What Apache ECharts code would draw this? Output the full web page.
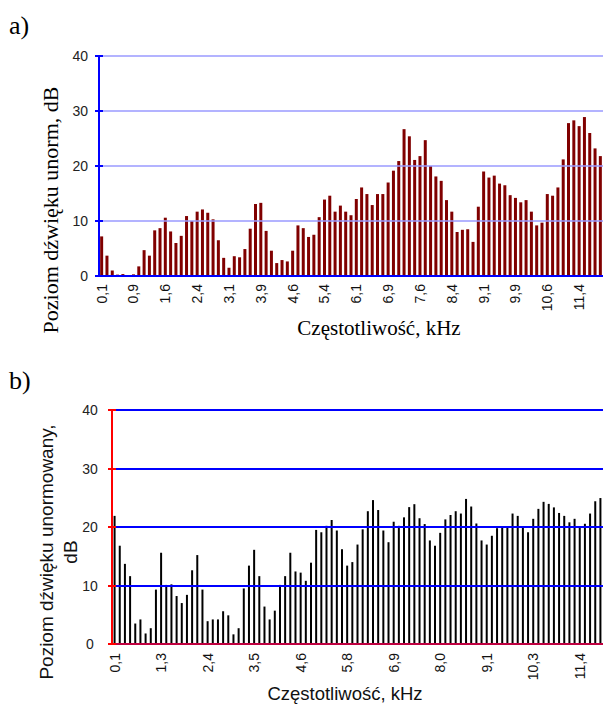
<!DOCTYPE html>
<html>
<head>
<meta charset="utf-8">
<script src="https://cdn.jsdelivr.net/npm/echarts@6/dist/echarts.min.js"></script>
<style>
  html, body { margin: 0; padding: 0; background: #ffffff; }
  #chart { width: 603px; height: 710px; }
</style>
</head>
<body>
<div id="chart"></div>
<script>
// a) levels per frequency bin, dB
const levelsA = [
  7.2, 3.7, 1.0, 0.25, 0.35, 0.1, 0.3, 1.75, 4.7, 3.7,
  8.3, 8.7, 10.6, 8.1, 6.0, 7.3, 10.9, 10.0, 11.7, 12.1,
  11.5, 10.3, 6.5, 3.3, 1.5, 3.6, 3.4, 4.9, 8.6, 13.1,
  13.3, 8.2, 4.6, 2.35, 2.9, 2.65, 4.6, 9.2, 8.7, 7.1,
  7.5, 10.7, 13.9, 14.6, 11.7, 12.8, 11.7, 11.05, 14.0, 16.1,
  14.9, 12.9, 14.9, 14.9, 17.0, 19.15, 20.9, 26.7, 25.4, 21.1,
  21.8, 24.7, 20.0, 18.1, 17.3, 13.8, 11.7, 8.0, 8.4, 8.5,
  6.2, 12.6, 19.0, 17.9, 18.25, 16.8, 16.5, 14.7, 14.2, 13.4,
  13.8, 11.7, 9.2, 9.7, 14.9, 14.6, 16.1, 21.2, 27.8, 28.3,
  27.25, 28.9, 26.0, 23.2, 21.8
];
// frequency labels (kHz) shown under every 6th bin of a)
const ticksA = ['0,1', '0,9', '1,6', '2,4', '3,1', '3,9', '4,6', '5,4',
                '6,1', '6,9', '7,6', '8,4', '9,1', '9,9', '10,6', '11,4'];
const binsPerTickA = 6;

// b) normalised levels per frequency bin, dB
const levelsB = [
  21.9, 16.8, 13.7, 11.6, 3.5, 4.2, 1.8, 2.7, 9.3, 15.6,
  10.1, 10.2, 8.2, 7.0, 8.4, 12.6, 15.2, 9.3, 3.9, 4.2,
  4.2, 5.6, 4.9, 1.65, 2.7, 9.5, 13.4, 16.1, 11.6, 6.4,
  4.2, 5.7, 10.1, 11.6, 15.6, 12.4, 12.2, 10.8, 13.9, 19.5,
  19.1, 20.2, 21.2, 19.4, 16.2, 13.4, 14.0, 17.0, 19.6, 22.7,
  24.6, 22.9, 19.4, 17.4, 20.9, 20.2, 21.65, 23.4, 23.9, 21.5,
  20.5, 17.7, 16.8, 19.0, 21.3, 22.05, 22.7, 22.3, 24.8, 23.5,
  20.6, 17.7, 17.0, 18.5, 19.8, 20.0, 19.9, 22.3, 21.9, 20.0,
  19.1, 21.4, 23.1, 24.3, 23.95, 23.35, 22.4, 21.9, 20.8, 21.4,
  19.85, 20.55, 22.3, 24.4, 24.95
];
// frequency labels (kHz) shown under every 9th bin of b)
const ticksB = ['0,1', '1,3', '2,4', '3,5', '4,6', '5,8', '6,9', '8,0',
                '9,1', '10,3', '11,4'];
const binsPerTickB = 9;

// level scale, dB
const levelMin = 0;
const levelMax = 40;
const levelStep = 10;

const SERIF = "'Liberation Serif', 'Times New Roman', serif";
const SANS = "'Liberation Sans', Arial, sans-serif";

const binsA = levelsA.map((_, i) => String(i));
const binsB = levelsB.map((_, i) => String(i));

// value axis with labels, line and outward ticks
function levelAxis(gridIndex, color, gridLine, labelOpts) {
  return {
    type: 'value', gridIndex, position: 'left',
    min: levelMin, max: levelMax, interval: levelStep,
    axisLine: { show: true, lineStyle: { color, width: 2 } },
    axisTick: { show: true, length: 4, lineStyle: { color, width: 2 } },
    splitLine: { show: true, lineStyle: { color: gridLine.color, width: gridLine.width } },
    axisLabel: Object.assign({ fontFamily: SANS, fontSize: 14, color: '#222222' }, labelOpts),
    z: 3
  };
}
// companion axis on the same side that draws the inward half of each tick
function innerTicks(gridIndex, color) {
  return {
    type: 'value', gridIndex, position: 'left', offset: 0,
    min: levelMin, max: levelMax, interval: levelStep,
    axisLine: { show: false },
    axisTick: { show: true, inside: true, length: 4, lineStyle: { color, width: 2 } },
    axisLabel: { show: false },
    splitLine: { show: false },
    z: 3
  };
}

const chart = echarts.init(document.getElementById('chart'), null, { renderer: 'svg' });

chart.setOption({
  animation: false,
  backgroundColor: '#ffffff',
  grid: [
    { left: 99, top: 56, height: 220, right: -2 },
    { left: 112, top: 410, height: 234, right: -2 }
  ],
  xAxis: [
    {
      type: 'category', gridIndex: 0, data: binsA,
      axisLine: { show: true, lineStyle: { color: '#0000ff', width: 2 } },
      axisTick: { show: false },
      splitLine: { show: false },
      axisLabel: {
        interval: binsPerTickA - 1, rotate: 90, margin: 8,
        fontFamily: SANS, fontSize: 14, color: '#111111',
        formatter: (v, i) => (i % binsPerTickA === 0 ? (ticksA[i / binsPerTickA] || '') : '')
      },
      z: 3
    },
    {
      type: 'category', gridIndex: 1, data: binsB,
      axisLine: { show: true, lineStyle: { color: '#ff0000', width: 1.5 } },
      axisTick: { show: false },
      splitLine: { show: false },
      axisLabel: {
        interval: binsPerTickB - 1, rotate: 90, margin: 9,
        fontFamily: SANS, fontSize: 14, color: '#111111',
        formatter: (v, i) => (i % binsPerTickB === 0 ? (ticksB[i / binsPerTickB] || '') : '')
      },
      z: 3
    }
  ],
  yAxis: [
    levelAxis(0, '#0000ff', { color: '#9a9aff', width: 1.5 }, { margin: 11 }),
    levelAxis(1, '#ff0000', { color: '#0000ff', width: 2 }, { margin: 22, align: 'center' }),
    innerTicks(0, '#0000ff'),
    innerTicks(1, '#ff0000')
  ],
  series: [
    {
      type: 'bar', xAxisIndex: 0, yAxisIndex: 0, data: levelsA,
      barWidth: 3, itemStyle: { color: '#800000' }, silent: true
    },
    {
      type: 'bar', xAxisIndex: 1, yAxisIndex: 1, data: levelsB,
      barWidth: 2, itemStyle: { color: '#000000' }, silent: true
    }
  ],
  graphic: [
    {
      type: 'text', x: 9, y: 25,
      style: { text: 'a)', font: '26px ' + SERIF, fill: '#000000',
               align: 'left', verticalAlign: 'middle' }
    },
    {
      type: 'text', x: 50, y: 210, rotation: Math.PI / 2,
      style: { text: 'Poziom dźwięku unorm, dB', font: '22px ' + SERIF, fill: '#000000',
               align: 'center', verticalAlign: 'middle' }
    },
    {
      type: 'text', x: 379, y: 328,
      style: { text: 'Częstotliwość, kHz', font: '21px ' + SERIF, fill: '#000000',
               align: 'center', verticalAlign: 'middle' }
    },
    {
      type: 'text', x: 9, y: 380,
      style: { text: 'b)', font: '26px ' + SERIF, fill: '#000000',
               align: 'left', verticalAlign: 'middle' }
    },
    {
      type: 'text', x: 58, y: 552, rotation: Math.PI / 2,
      style: { text: 'Poziom dźwięku unormowany,\ndB', font: '19px ' + SANS, fill: '#111111',
               lineHeight: 24, align: 'center', verticalAlign: 'middle' }
    },
    {
      type: 'text', x: 345, y: 693,
      style: { text: 'Częstotliwość, kHz', font: '18.5px ' + SANS, fill: '#111111',
               align: 'center', verticalAlign: 'middle' }
    }
  ]
});
</script>
</body>
</html>
